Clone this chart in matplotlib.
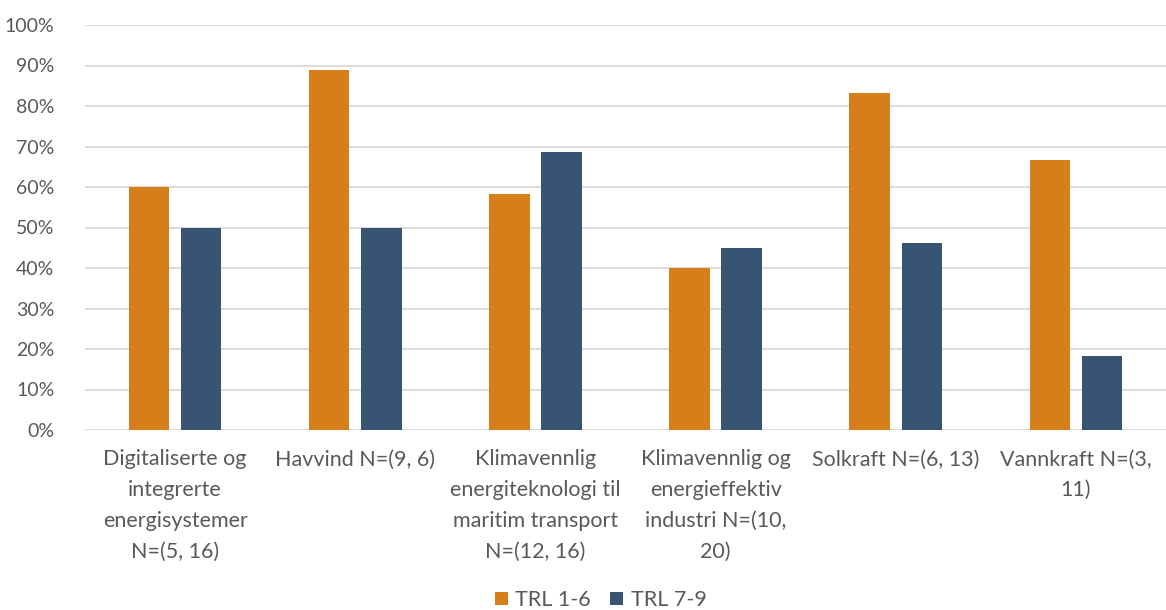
import matplotlib
matplotlib.use("Agg")
import matplotlib.pyplot as plt
import numpy as np
from matplotlib.ticker import PercentFormatter

categories = [
    "Digitaliserte og\nintegrerte\nenergisystemer\nN=(5, 16)",
    "Havvind N=(9, 6)",
    "Klimavennlig\nenergiteknologi til\nmaritim transport\nN=(12, 16)",
    "Klimavennlig og\nenergieffektiv\nindustri N=(10,\n20)",
    "Solkraft N=(6, 13)",
    "Vannkraft N=(3,\n11)",
]
trl_1_6 = [60.0, 88.9, 58.3, 40.0, 83.3, 66.7]
trl_7_9 = [50.0, 50.0, 68.75, 45.0, 46.2, 18.2]
series_names = ["TRL 1-6", "TRL 7-9"]
colors = ["#D67F1A", "#375573"]
text_color = "#595959"

plt.rcParams["font.family"] = ["Lato", "DejaVu Sans"]

fig = plt.figure(figsize=(11.66, 6.10), dpi=100)
ax = fig.add_axes([85 / 1166, 1 - 430 / 610, 1 - 85 / 1166, (430 - 25) / 610])

x = np.arange(len(categories))
w = 0.225
gap = 0.065
ax.bar(x - (w + gap) / 2, trl_1_6, w, color=colors[0], label=series_names[0], zorder=3)
ax.bar(x + (w + gap) / 2, trl_7_9, w, color=colors[1], label=series_names[1], zorder=3)

ax.set_xlim(-0.5, len(categories) - 0.5)
ax.set_ylim(0, 100)
ax.set_yticks(np.arange(0, 101, 10))
ax.yaxis.set_major_formatter(PercentFormatter(decimals=0))
ax.grid(axis="y", color="#D9D9D9", linewidth=1.3, zorder=0)
for s in ax.spines.values():
    s.set_visible(False)
ax.tick_params(axis="both", length=0, colors=text_color)
ax.tick_params(axis="y", pad=22, labelsize=14)
ax.tick_params(axis="x", pad=14, labelsize=15.5)
ax.set_xticks(x)
ax.set_xticklabels(categories, linespacing=1.68, va="top")

leg = fig.legend(loc="center", bbox_to_anchor=(0.515, 1 - 600 / 610), ncol=2,
                 frameon=False, fontsize=15.5, handlelength=0.6, handleheight=0.6,
                 handletextpad=0.35, columnspacing=0.9, labelcolor=text_color,
                 borderpad=0.1)

fig.savefig("out.png", dpi=100, facecolor="white")
